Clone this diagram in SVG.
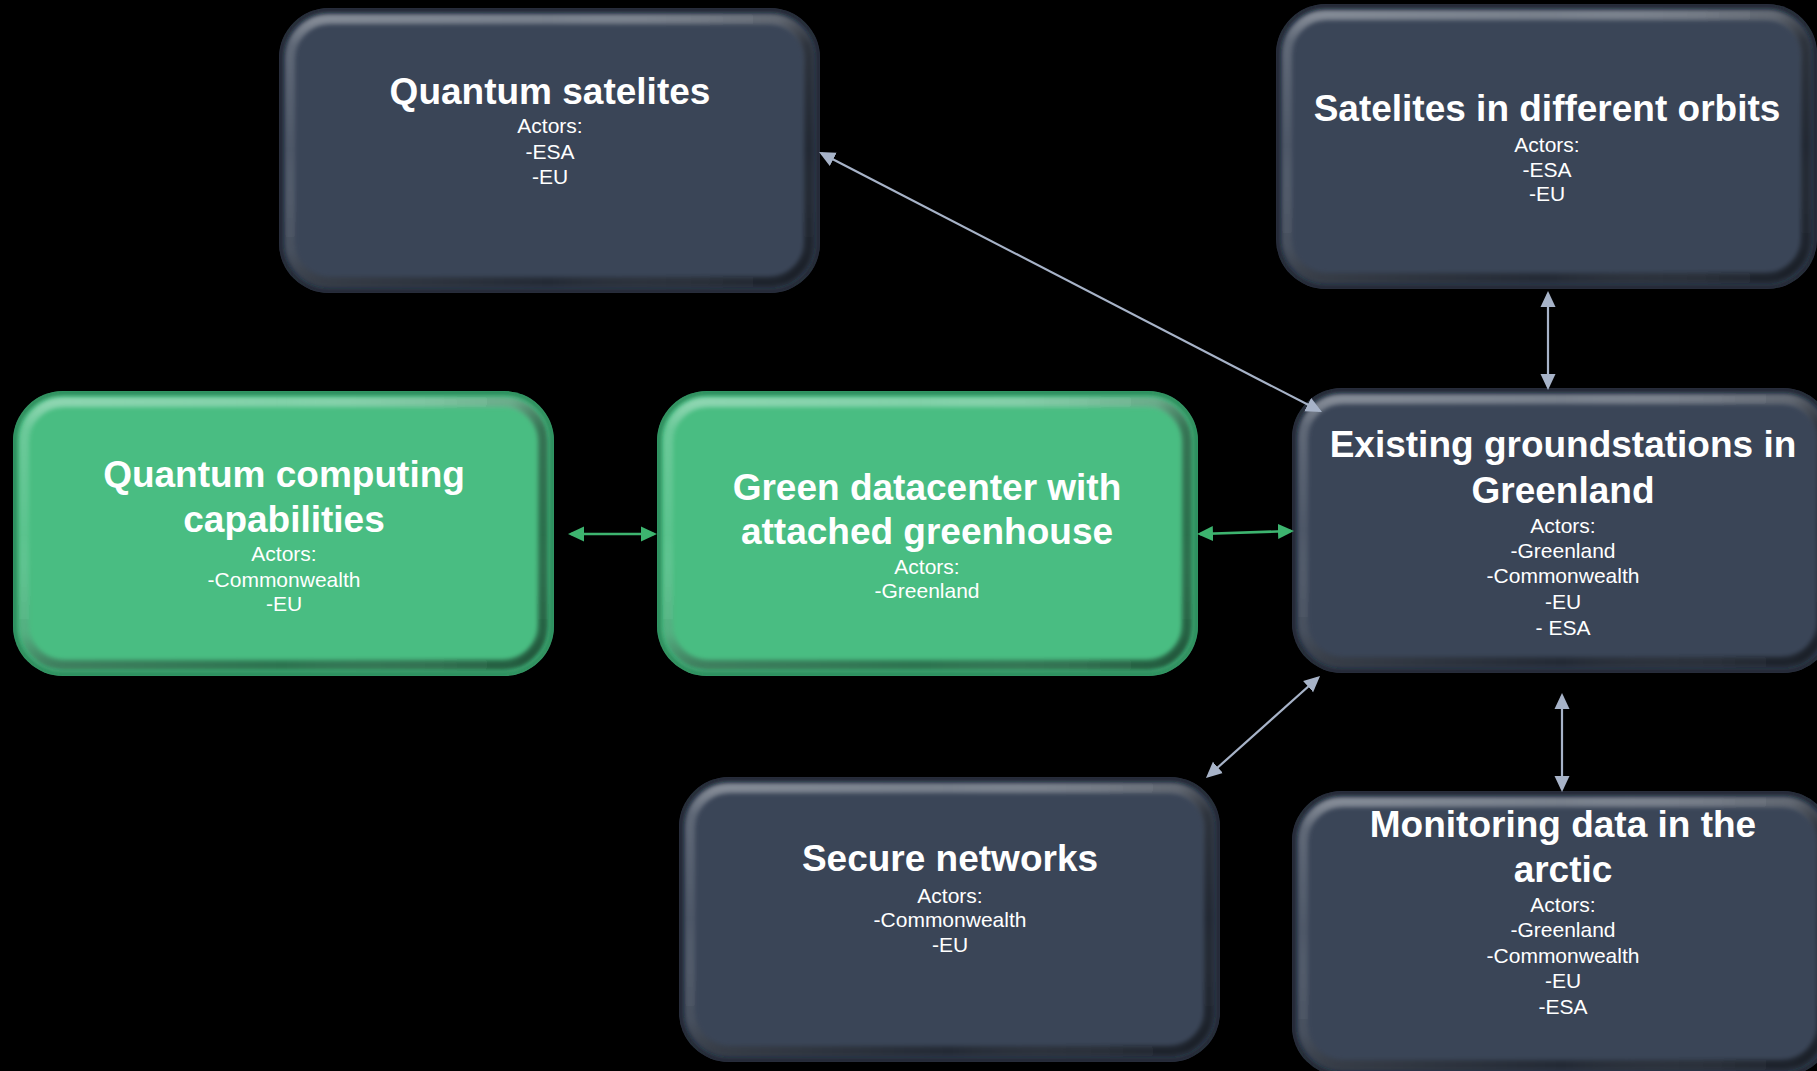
<svg xmlns="http://www.w3.org/2000/svg" xmlns:xlink="http://www.w3.org/1999/xlink" width="1817" height="1071" viewBox="0 0 1817 1071">
  <style>
    .title { font-family: "Liberation Sans", Arial, sans-serif; font-weight: bold; font-size: 37px; fill: #ffffff; text-anchor: middle; }
    .body { font-family: "Liberation Sans", Arial, sans-serif; font-size: 21px; fill: #ffffff; text-anchor: middle; }
    .link { stroke: #a7b3c8; stroke-width: 2.2; fill: none; marker-start: url(#headGrey); marker-end: url(#headGrey); }
    .link-green { stroke: #3db46f; stroke-width: 2.6; fill: none; marker-start: url(#headGreen); marker-end: url(#headGreen); }
  </style>
  <defs>
    <marker id="headGrey" viewBox="0 0 16 16" markerUnits="userSpaceOnUse" markerWidth="16" markerHeight="16" refX="13" refY="8" orient="auto-start-reverse">
      <path d="M0,0.5 L16,8 L0,15.5 z" fill="#a7b3c8"/>
    </marker>
    <marker id="headGreen" viewBox="0 0 16 16" markerUnits="userSpaceOnUse" markerWidth="16" markerHeight="16" refX="13" refY="8" orient="auto-start-reverse">
      <path d="M0,0.5 L16,8 L0,15.5 z" fill="#3db46f"/>
    </marker>

    <!-- bevel shading: light top / dark bottom, light left / dark right -->
    <linearGradient id="bevelV" x1="0" y1="0" x2="0" y2="1">
      <stop offset="0" stop-color="#ffffff" stop-opacity="0.32"/>
      <stop offset="0.1" stop-color="#ffffff" stop-opacity="0.1"/>
      <stop offset="0.5" stop-color="#ffffff" stop-opacity="0"/>
      <stop offset="0.88" stop-color="#000000" stop-opacity="0.12"/>
      <stop offset="1" stop-color="#000000" stop-opacity="0.4"/>
    </linearGradient>
    <linearGradient id="bevelH" x1="0" y1="0" x2="1" y2="0">
      <stop offset="0" stop-color="#ffffff" stop-opacity="0.1"/>
      <stop offset="0.5" stop-color="#ffffff" stop-opacity="0"/>
      <stop offset="0.94" stop-color="#000000" stop-opacity="0.18"/>
      <stop offset="1" stop-color="#000000" stop-opacity="0.42"/>
    </linearGradient>
    <filter id="soft" x="-5%" y="-5%" width="110%" height="110%">
      <feGaussianBlur stdDeviation="2"/>
    </filter>
    <clipPath id="boxClip">
      <rect x="0" y="0" width="541" height="285" rx="50" ry="50"/>
    </clipPath>

    <!-- slate box shape -->
    <g id="darkBox">
      <rect x="0" y="0" width="541" height="285" rx="50" ry="50" fill="#3a4557"/>
      <g clip-path="url(#boxClip)">
        <rect x="11" y="11" width="519" height="263" rx="40" ry="40" fill="none" stroke="url(#bevelV)" stroke-width="10" filter="url(#soft)"/>
        <rect x="11" y="11" width="519" height="263" rx="40" ry="40" fill="none" stroke="url(#bevelH)" stroke-width="10" filter="url(#soft)"/>
        <rect x="1.5" y="1.5" width="538" height="282" rx="48.5" ry="48.5" fill="none" stroke="#161b23" stroke-width="5" stroke-opacity="0.75" filter="url(#soft)"/>
      </g>
    </g>

    <!-- green box shape -->
    <g id="greenBox">
      <rect x="0" y="0" width="541" height="285" rx="50" ry="50" fill="#49bd82"/>
      <g clip-path="url(#boxClip)">
        <rect x="11" y="11" width="519" height="263" rx="40" ry="40" fill="none" stroke="url(#bevelV)" stroke-width="10" filter="url(#soft)"/>
        <rect x="11" y="11" width="519" height="263" rx="40" ry="40" fill="none" stroke="url(#bevelH)" stroke-width="10" filter="url(#soft)"/>
        <rect x="1.5" y="1.5" width="538" height="282" rx="48.5" ry="48.5" fill="none" stroke="#1e6b43" stroke-width="5" stroke-opacity="0.7" filter="url(#soft)"/>
      </g>
    </g>
  </defs>

  <rect x="0" y="0" width="1817" height="1071" fill="#000000"/>

  <g id="quantum-satelites">
    <use xlink:href="#darkBox" x="279" y="8"/>
    <text class="title" x="550" y="104">Quantum satelites</text>
    <text class="body" x="550" y="133">Actors:</text>
    <text class="body" x="550" y="159">-ESA</text>
    <text class="body" x="550" y="184">-EU</text>
  </g>

  <g id="satelites-orbits">
    <use xlink:href="#darkBox" x="1276" y="4"/>
    <text class="title" x="1547" y="121">Satelites in different orbits</text>
    <text class="body" x="1547" y="152">Actors:</text>
    <text class="body" x="1547" y="177">-ESA</text>
    <text class="body" x="1547" y="201">-EU</text>
  </g>

  <g id="quantum-computing">
    <use xlink:href="#greenBox" x="13" y="391"/>
    <text class="title" x="284" y="487">Quantum computing</text>
    <text class="title" x="284" y="532">capabilities</text>
    <text class="body" x="284" y="561">Actors:</text>
    <text class="body" x="284" y="587">-Commonwealth</text>
    <text class="body" x="284" y="611">-EU</text>
  </g>

  <g id="green-datacenter">
    <use xlink:href="#greenBox" x="657" y="391"/>
    <text class="title" x="927" y="500">Green datacenter with</text>
    <text class="title" x="927" y="544">attached greenhouse</text>
    <text class="body" x="927" y="574">Actors:</text>
    <text class="body" x="927" y="598">-Greenland</text>
  </g>

  <g id="groundstations">
    <use xlink:href="#darkBox" x="1292" y="388"/>
    <text class="title" x="1563" y="457">Existing groundstations in</text>
    <text class="title" x="1563" y="503">Greenland</text>
    <text class="body" x="1563" y="533">Actors:</text>
    <text class="body" x="1563" y="558">-Greenland</text>
    <text class="body" x="1563" y="583">-Commonwealth</text>
    <text class="body" x="1563" y="609">-EU</text>
    <text class="body" x="1563" y="635">- ESA</text>
  </g>

  <g id="secure-networks">
    <use xlink:href="#darkBox" x="679" y="777"/>
    <text class="title" x="950" y="871">Secure networks</text>
    <text class="body" x="950" y="903">Actors:</text>
    <text class="body" x="950" y="927">-Commonwealth</text>
    <text class="body" x="950" y="952">-EU</text>
  </g>

  <g id="monitoring-arctic">
    <use xlink:href="#darkBox" x="1292" y="791"/>
    <text class="title" x="1563" y="837">Monitoring data in the</text>
    <text class="title" x="1563" y="882">arctic</text>
    <text class="body" x="1563" y="912">Actors:</text>
    <text class="body" x="1563" y="937">-Greenland</text>
    <text class="body" x="1563" y="963">-Commonwealth</text>
    <text class="body" x="1563" y="988">-EU</text>
    <text class="body" x="1563" y="1014">-ESA</text>
  </g>

  <!-- connectors, drawn last so arrowheads sit on top of box edges -->
  <g id="connectors">
    <line class="link" x1="821.7" y1="153.4" x2="1319.3" y2="410.6"/>
    <line class="link" x1="1548" y1="294" x2="1548" y2="387"/>
    <line class="link" x1="1317.8" y1="678" x2="1208.2" y2="776"/>
    <line class="link" x1="1562" y1="696" x2="1562" y2="789"/>
    <line class="link-green" x1="571" y1="534" x2="654" y2="534"/>
    <line class="link-green" x1="1200" y1="534" x2="1291" y2="531"/>
  </g>
</svg>
